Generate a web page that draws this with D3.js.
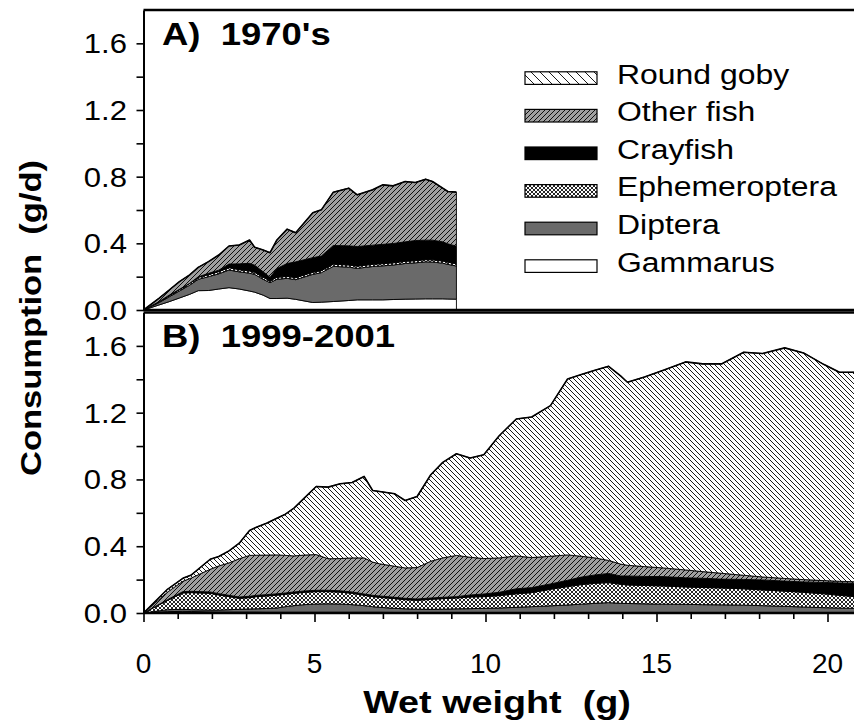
<!DOCTYPE html>
<html>
<head>
<meta charset="utf-8">
<script src="https://cdn.jsdelivr.net/npm/d3@7"></script>
<style>
  html, body { margin: 0; padding: 0; background: #fff; }
  svg { display: block; }
  text { font-family: "Liberation Sans", Arial, sans-serif; fill: #000; white-space: pre; }
</style>
</head>
<body>
<svg id="chart" width="854" height="726"></svg>
<script>
// ---- prey categories, bottom of the stack first ----
const preyKeys = ["Gammarus", "Diptera", "Ephemeroptera", "Crayfish", "Other fish", "Round goby"];
const legendOrder = ["Round goby", "Other fish", "Crayfish", "Ephemeroptera", "Diptera", "Gammarus"];

// ---- Panel A: 1970's, consumption (g/d) by wet weight (g) ----
const weightA = [0, 0.45, 0.75, 1.05, 1.35, 1.6, 1.9, 2.2, 2.5, 2.8, 3.1, 3.25, 3.5, 3.7, 3.9, 4.2,
  4.45, 4.95, 5.2, 5.55, 6.0, 6.25, 6.7, 7.0, 7.3, 7.65, 7.95, 8.25, 8.45, 8.75, 8.9, 9.15];
const gammarusA = [0, 0.03, 0.05, 0.072, 0.094, 0.116, 0.117, 0.126, 0.134, 0.126, 0.114, 0.107, 0.089, 0.069, 0.069, 0.071,
  0.064, 0.045, 0.047, 0.051, 0.057, 0.061, 0.061, 0.061, 0.063, 0.065, 0.066, 0.067, 0.067, 0.067, 0.066, 0.065];
const dipteraA = [0, 0.014, 0.029, 0.042, 0.055, 0.068, 0.083, 0.091, 0.106, 0.103, 0.107, 0.107, 0.095, 0.095, 0.115, 0.119,
  0.118, 0.169, 0.177, 0.211, 0.200, 0.189, 0.200, 0.204, 0.207, 0.214, 0.217, 0.222, 0.221, 0.214, 0.208, 0.199];
const ephemeropteraA = [0, 0.004, 0.006, 0.008, 0.01, 0.012, 0.012, 0.013, 0.014, 0.013, 0.013, 0.012, 0.012, 0.011, 0.012, 0.012,
  0.012, 0.012, 0.012, 0.013, 0.013, 0.013, 0.013, 0.013, 0.013, 0.013, 0.013, 0.013, 0.013, 0.013, 0.013, 0.013];
const crayfishA = [0, 0.002, 0.004, 0.002, 0.001, 0.003, 0.008, 0.009, 0.022, 0.035, 0.046, 0.043, 0.033, 0.021, 0.053, 0.077,
  0.095, 0.088, 0.088, 0.112, 0.115, 0.118, 0.115, 0.116, 0.116, 0.117, 0.121, 0.117, 0.118, 0.115, 0.110, 0.106];
const otherFishA = [0, 0.020, 0.031, 0.046, 0.051, 0.057, 0.070, 0.091, 0.108, 0.113, 0.140, 0.108, 0.131, 0.148, 0.171, 0.206,
  0.175, 0.270, 0.277, 0.320, 0.346, 0.310, 0.332, 0.357, 0.346, 0.362, 0.348, 0.366, 0.352, 0.322, 0.314, 0.324];

// ---- Panel B: 1999-2001 ----
const weightB = [0, 0.7, 1.15, 1.4, 1.95, 2.2, 2.5, 2.8, 3.1, 3.3, 3.6, 3.9, 4.15, 4.4, 4.7, 5.05, 5.4, 5.75, 6.1, 6.45,
  6.7, 6.9, 7.35, 7.65, 8.0, 8.4, 8.75, 9.15, 9.55, 9.95, 10.4, 10.9, 11.35, 11.9, 12.4, 12.8, 13.2, 13.6, 13.95, 14.15,
  14.65, 15.2, 15.85, 16.35, 16.9, 17.55, 18.1, 18.75, 19.3, 19.9, 20.35, 20.8];
const gammarusB = [0, 0.008, 0.01, 0.009, 0.006, 0.005, 0.005, 0.005, 0.005, 0.005, 0.004, 0.004, 0.004, 0.004, 0.004, 0.004,
  0.004, 0.004, 0.004, 0.004, 0.004, 0.004, 0.003, 0.003, 0.003, 0.003, 0.003, 0.003, 0.003, 0.003, 0.003, 0.003, 0.003,
  0.003, 0.003, 0.003, 0.003, 0.003, 0.003, 0.003, 0.003, 0.003, 0.003, 0.003, 0.003, 0.003, 0.003, 0.003, 0.003, 0.003,
  0.003, 0.003];
const dipteraB = [0, 0.012, 0.012, 0.011, 0.012, 0.013, 0.015, 0.017, 0.019, 0.020, 0.023, 0.026, 0.034, 0.040, 0.046, 0.050,
  0.051, 0.050, 0.046, 0.040, 0.034, 0.030, 0.025, 0.022, 0.020, 0.019, 0.020, 0.022, 0.023, 0.025, 0.027, 0.031, 0.035,
  0.040, 0.045, 0.050, 0.055, 0.059, 0.055, 0.054, 0.052, 0.050, 0.049, 0.047, 0.046, 0.044, 0.041, 0.037, 0.033, 0.029,
  0.027, 0.025];
const ephemeropteraB = [0, 0.055, 0.098, 0.102, 0.100, 0.090, 0.078, 0.066, 0.068, 0.073, 0.075, 0.077, 0.074, 0.074, 0.074,
  0.074, 0.073, 0.071, 0.068, 0.062, 0.060, 0.060, 0.058, 0.055, 0.053, 0.060, 0.063, 0.065, 0.070, 0.070, 0.074, 0.081,
  0.084, 0.099, 0.110, 0.117, 0.120, 0.120, 0.114, 0.111, 0.110, 0.109, 0.104, 0.103, 0.101, 0.098, 0.094, 0.091, 0.088,
  0.083, 0.076, 0.070];
const crayfishB = [0, 0.005, 0.008, 0.008, 0.008, 0.008, 0.008, 0.008, 0.008, 0.008, 0.008, 0.008, 0.008, 0.008, 0.008,
  0.008, 0.008, 0.008, 0.008, 0.008, 0.008, 0.008, 0.008, 0.008, 0.008, 0.008, 0.008, 0.008, 0.012, 0.016, 0.02, 0.03,
  0.03, 0.032, 0.038, 0.045, 0.05, 0.055, 0.05, 0.054, 0.054, 0.056, 0.055, 0.055, 0.053, 0.056, 0.06, 0.06, 0.062,
  0.068, 0.074, 0.08];
const otherFishB = [0, 0.045, 0.062, 0.080, 0.136, 0.166, 0.194, 0.229, 0.245, 0.240, 0.237, 0.233, 0.225, 0.216, 0.215,
  0.214, 0.189, 0.193, 0.204, 0.216, 0.199, 0.193, 0.186, 0.182, 0.188, 0.220, 0.236, 0.247, 0.226, 0.212, 0.206, 0.197,
  0.180, 0.166, 0.152, 0.125, 0.102, 0.078, 0.071, 0.064, 0.059, 0.052, 0.047, 0.040, 0.035, 0.025, 0.018, 0.016, 0.014,
  0.011, 0.010, 0.009];
const roundGobyB = [0, 0.017, 0.018, 0.018, 0.060, 0.056, 0.072, 0.093, 0.149, 0.168, 0.191, 0.220, 0.247, 0.286, 0.341,
  0.408, 0.429, 0.448, 0.452, 0.488, 0.429, 0.433, 0.434, 0.404, 0.426, 0.518, 0.572, 0.609, 0.594, 0.622, 0.732, 0.820,
  0.842, 0.902, 1.054, 1.088, 1.124, 1.163, 1.127, 1.096, 1.136, 1.184, 1.246, 1.244, 1.254, 1.336, 1.338, 1.381, 1.358,
  1.294, 1.252, 1.255];

// ---- axis ticks and labels ----
const yTicks = [0, 0.2, 0.4, 0.6, 0.8, 1.0, 1.2, 1.4, 1.6];
const yTickLabels = [0, 0.4, 0.8, 1.2, 1.6];
const xMinorTicks = d3.range(0, 21, 1);
const xTickLabels = [0, 5, 10, 15, 20];

// build table rows for d3.stack
function rows(weights, series) {
  return weights.map((w, i) => {
    const r = { w };
    for (const k in series) r[k] = series[k][i];
    return r;
  });
}
const tableA = rows(weightA, {
  "Gammarus": gammarusA, "Diptera": dipteraA, "Ephemeroptera": ephemeropteraA,
  "Crayfish": crayfishA, "Other fish": otherFishA
});
const tableB = rows(weightB, {
  "Gammarus": gammarusB, "Diptera": dipteraB, "Ephemeroptera": ephemeropteraB,
  "Crayfish": crayfishB, "Other fish": otherFishB, "Round goby": roundGobyB
});

const svg = d3.select("#chart");
const defs = svg.append("defs");

// hatch / fill patterns
function hatch(id, size, bg, d, sw) {
  const p = defs.append("pattern").attr("id", id).attr("patternUnits", "userSpaceOnUse")
    .attr("width", size).attr("height", size);
  p.append("rect").attr("width", size).attr("height", size).attr("fill", bg);
  p.append("path").attr("d", d).attr("stroke", "#000").attr("stroke-width", sw).attr("fill", "none");
}
hatch("goby", 5, "#fff", "M-1,-1L6,6M-1,4L1,6M4,-1L6,1", 0.9);
hatch("gobyKey", 9, "#fff", "M-1,-1L10,10M-1,8L1,10M8,-1L10,1", 0.9);
hatch("otherfish", 5, "#a0a0a0", "M-1,6L6,-1M-1,1L1,-1M4,6L6,4", 0.9);
hatch("ephem", 4, "#fff", "M0,0L4,4M4,0L0,4", 0.85);

const fills = {
  "Round goby": "url(#goby)",
  "Other fish": "url(#otherfish)",
  "Crayfish": "#000",
  "Ephemeroptera": "url(#ephem)",
  "Diptera": "#6a6a6a",
  "Gammarus": "#fff"
};

const x = d3.scaleLinear().domain([0, 21]).range([143.5, 143.5 + 34.2 * 21]);
const yA = d3.scaleLinear().domain([0, 1.8]).range([310, 10]);
const yB = d3.scaleLinear().domain([0, 1.8]).range([613, 312.5]);

const stretch = 1.11;   // horizontal text stretch

function txt(g, s, tx, ty, opt) {
  const t = g.append("text")
    .attr("transform", `translate(${tx},${ty})` + (opt.rot ? ` rotate(${opt.rot})` : "") + ` scale(${opt.sx || 1},1)`)
    .attr("text-anchor", opt.anchor || "start")
    .style("font-size", opt.size + "px")
    .style("font-weight", opt.bold ? "bold" : "normal")
    .text(s);
  if (opt.middle) t.attr("dominant-baseline", "central");
  return t;
}

function drawPanel(table, keys, y, title, titleBase) {
  const g = svg.append("g");
  const series = d3.stack().keys(keys)(table);
  const area = d3.area()
    .x(d => x(d.data.w))
    .y0(d => y(d[0]))
    .y1(d => y(d[1]));
  g.selectAll("path.layer").data(series).join("path")
    .attr("class", "layer")
    .attr("d", area)
    .attr("fill", d => fills[d.key])
    .attr("stroke", "#000")
    .attr("stroke-width", 0.9)
    .attr("stroke-linejoin", "round");
  // outline along the top of the stack
  const top = series[series.length - 1];
  g.append("path")
    .attr("d", d3.line().x(d => x(d.data.w)).y(d => y(d[1]))(top))
    .attr("fill", "none").attr("stroke", "#000").attr("stroke-width", 1.6)
    .attr("stroke-linejoin", "round");

  // y axis
  const yAxis = d3.axisLeft(y).tickValues(yTicks).tickSize(7).tickSizeOuter(0).tickFormat("");
  const ga = g.append("g").attr("transform", `translate(${x(0)},0)`).call(yAxis);
  ga.select(".domain").attr("stroke-width", 2);
  ga.selectAll(".tick line").attr("stroke-width", 1.6);
  yTickLabels.forEach(v => {
    txt(g, v.toFixed(1), 127, y(v), { size: 28, sx: stretch, anchor: "end", middle: true });
  });
  // frame lines
  g.append("line").attr("x1", x(0)).attr("x2", 860).attr("y1", y(1.8)).attr("y2", y(1.8))
    .attr("stroke", "#000").attr("stroke-width", 2.4);
  g.append("line").attr("x1", x(0)).attr("x2", 860).attr("y1", y(0)).attr("y2", y(0))
    .attr("stroke", "#000").attr("stroke-width", 2.4);
  txt(g, title, 162, titleBase, { size: 32, bold: true, sx: 1.14 });
  return g;
}

drawPanel(tableA, preyKeys.slice(0, 5), yA, "A)  1970's", 45);
const gB = drawPanel(tableB, preyKeys, yB, "B)  1999-2001", 347);

// x axis of the lower panel
const xAxis = d3.axisBottom(x).tickValues(xMinorTicks).tickSize(6).tickSizeOuter(0).tickFormat("");
const gx = gB.append("g").attr("transform", `translate(0,${yB(0)})`).call(xAxis);
gx.select(".domain").remove();
gx.selectAll(".tick line").attr("stroke-width", 1.6)
  .attr("y2", d => (d % 5 === 0 ? 9 : 6));
xTickLabels.forEach(v => {
  txt(gB, String(v), x(v), 673, { size: 28, anchor: "middle" });
});

// axis titles
txt(svg, "Wet weight  (g)", 497, 713, { size: 32, bold: true, anchor: "middle", sx: 1.18 });
txt(svg, "Consumption  (g/d)", 41, 318, { size: 30, bold: true, anchor: "middle", rot: -90, sx: 1.15 });

// legend
const lg = svg.append("g");
legendOrder.forEach((k, i) => {
  const base = 83.5 + 37.6 * i;
  lg.append("rect").attr("x", 525).attr("y", base - 11.7).attr("width", 72).attr("height", 12.6)
    .attr("fill", k === "Round goby" ? "url(#gobyKey)" : fills[k])
    .attr("stroke", "#000").attr("stroke-width", 1.2);
  txt(lg, k, 617, base, { size: 28, sx: 1.14 });
});
</script>
</body>
</html>
